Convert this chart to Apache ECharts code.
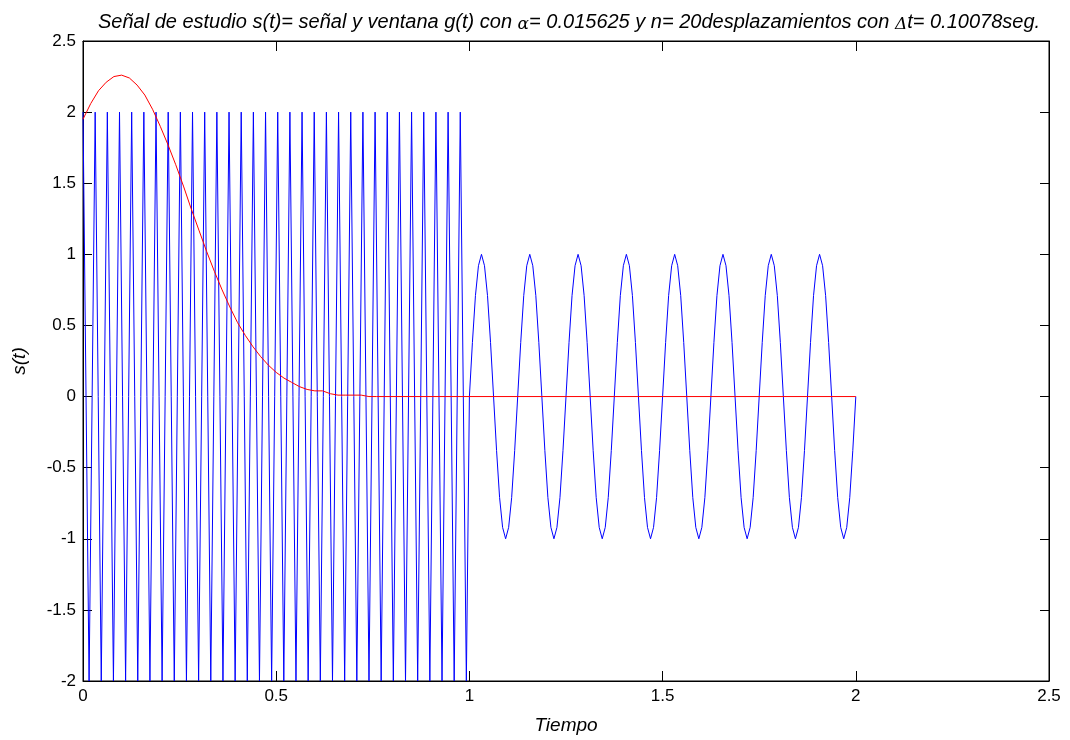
<!DOCTYPE html>
<html>
<head>
<meta charset="utf-8">
<script src="https://cdn.jsdelivr.net/npm/echarts@6/dist/echarts.min.js"></script>
<style>
html,body{margin:0;padding:0;background:#fff;}
#chart{width:1070px;height:740px;}
</style>
</head>
<body>
<div id="chart"></div>
<script>
// ---- data ----
const xTicks = [0, 0.5, 1, 1.5, 2, 2.5];
const yTicks = [-2, -1.5, -1, -0.5, 0, 0.5, 1, 1.5, 2, 2.5];

// blue signal, first part: samples from t=0 to t=1 (step 1/127)
const sigStart1 = 0;
const sigStep1 = 1 / 127;
const signalPart1 = [
  2,0,-2,0, 2,0,-2,0, 2,0,-2,0, 2,0,-2,0,
  2,0,-2,0, 2,0,-2,0, 2,0,-2,0, 2,0,-2,0,
  2,0,-2,0, 2,0,-2,0, 2,0,-2,0, 2,0,-2,0,
  2,0,-2,0, 2,0,-2,0, 2,0,-2,0, 2,0,-2,0,
  2,0,-2,0, 2,0,-2,0, 2,0,-2,0, 2,0,-2,0,
  2,0,-2,0, 2,0,-2,0, 2,0,-2,0, 2,0,-2,0,
  2,0,-2,0, 2,0,-2,0, 2,0,-2,0, 2,0,-2,0,
  2,0,-2,0, 2,0,-2,0, 2,0,-2,0, 2,0,-2,0
];
// blue signal, second part: samples from t=1 to t=2 (step 1/128)
const sigStart2 = 1;
const sigStep2 = 1 / 128;
const signalPart2 = [
  0,0.38,0.71,0.92,1,0.92,0.71,0.38,0,-0.38,-0.71,-0.92,-1,-0.92,-0.71,-0.38,
  0,0.38,0.71,0.92,1,0.92,0.71,0.38,0,-0.38,-0.71,-0.92,-1,-0.92,-0.71,-0.38,
  0,0.38,0.71,0.92,1,0.92,0.71,0.38,0,-0.38,-0.71,-0.92,-1,-0.92,-0.71,-0.38,
  0,0.38,0.71,0.92,1,0.92,0.71,0.38,0,-0.38,-0.71,-0.92,-1,-0.92,-0.71,-0.38,
  0,0.38,0.71,0.92,1,0.92,0.71,0.38,0,-0.38,-0.71,-0.92,-1,-0.92,-0.71,-0.38,
  0,0.38,0.71,0.92,1,0.92,0.71,0.38,0,-0.38,-0.71,-0.92,-1,-0.92,-0.71,-0.38,
  0,0.38,0.71,0.92,1,0.92,0.71,0.38,0,-0.38,-0.71,-0.92,-1,-0.92,-0.71,-0.38,
  0,0.38,0.71,0.92,1,0.92,0.71,0.38,0,-0.38,-0.71,-0.92,-1,-0.92,-0.71,-0.38,
  0
];

// red window g(t)
const windowTimes = [0,0.02,0.04,0.06,0.08,0.10,0.12,0.14,0.16,0.18,0.20,0.22,0.24,0.26,0.28,0.30,0.32,0.34,0.36,0.38,0.40,0.42,0.44,0.46,0.48,0.50,0.52,0.54,0.56,0.58,0.60,0.62,0.64,0.66,0.68,0.70,0.72,0.74,0.76,2];
const windowValues = [1.95,2.06,2.15,2.21,2.25,2.26,2.24,2.19,2.12,2.02,1.90,1.77,1.63,1.48,1.32,1.17,1.02,0.88,0.75,0.63,0.52,0.43,0.35,0.28,0.22,0.17,0.13,0.10,0.07,0.05,0.04,0.04,0.02,0.01,0.01,0.01,0.01,0,0,0];

// ---- build series data ----
const blueData = [];
signalPart1.forEach((v, i) => blueData.push([sigStart1 + i * sigStep1, v]));
signalPart2.forEach((v, i) => blueData.push([sigStart2 + i * sigStep2, v]));
const redData = windowTimes.map((t, i) => [t, windowValues[i]]);

const FONT = "'Liberation Sans', Arial, Helvetica, sans-serif";
const labelFmt = v => String(+v.toFixed(2));

const chart = echarts.init(document.getElementById('chart'), null, {renderer: 'canvas'});
const baseX = {
  type: 'value', min: xTicks[0], max: xTicks[xTicks.length - 1], interval: 0.5,
  splitLine: {show: false},
  axisLine: {show: true, onZero: false, lineStyle: {color: '#000', width: 1}},
  axisTick: {show: true, inside: true, length: 10, lineStyle: {color: '#000'}}
};
const baseY = {
  type: 'value', min: yTicks[0], max: yTicks[yTicks.length - 1], interval: 0.5,
  splitLine: {show: false},
  axisLine: {show: true, onZero: false, lineStyle: {color: '#000', width: 1}},
  axisTick: {show: true, inside: true, length: 9, lineStyle: {color: '#000'}}
};

chart.setOption({
  animation: false,
  backgroundColor: '#fff',
  title: {
    text: 'Señal de estudio s(t)= señal y ventana g(t) con {s|α}= 0.015625 y n= 20desplazamientos con {s|Δ}t= 0.10078seg.',
    left: 564, textAlign: 'center', top: 7,
    textStyle: {
      fontFamily: FONT, fontSize: 20, fontStyle: 'italic', fontWeight: 'normal', color: '#000',
      rich: {s: {fontFamily: "'DejaVu Serif', serif", fontSize: 17, fontStyle: 'italic', color: '#000', padding: [4, 0, 0, 0]}}
    }
  },
  grid: {left: 83, right: 21, top: 41, bottom: 55, show: true, borderColor: '#000', borderWidth: 1, backgroundColor: '#fff'},
  xAxis: [
    Object.assign({}, baseX, {
      position: 'bottom',
      name: 'Tiempo', nameLocation: 'middle', nameGap: 35,
      nameTextStyle: {fontFamily: FONT, fontSize: 19, fontStyle: 'italic', color: '#000'},
      axisLabel: {show: true, margin: 7, fontFamily: FONT, fontSize: 17, color: '#000', formatter: labelFmt, showMinLabel: true, showMaxLabel: true}
    }),
    Object.assign({}, baseX, {position: 'top', axisLabel: {show: false}})
  ],
  yAxis: [
    Object.assign({}, baseY, {
      position: 'left',
      name: 's(t)', nameLocation: 'middle', nameGap: 54, nameRotate: 90,
      nameTextStyle: {fontFamily: FONT, fontSize: 19, fontStyle: 'italic', color: '#000'},
      axisLabel: {show: true, margin: 7, fontFamily: FONT, fontSize: 17, color: '#000', formatter: labelFmt, showMinLabel: true, showMaxLabel: true}
    }),
    Object.assign({}, baseY, {position: 'right', axisLabel: {show: false}})
  ],
  series: [
    {type: 'line', data: blueData, xAxisIndex: 0, yAxisIndex: 0, showSymbol: false, symbol: 'none',
     lineStyle: {color: '#0000ff', width: 1}, itemStyle: {color: '#0000ff'}, clip: true},
    {type: 'line', data: redData, xAxisIndex: 0, yAxisIndex: 0, showSymbol: false, symbol: 'none',
     lineStyle: {color: '#ff0000', width: 1}, itemStyle: {color: '#ff0000'}, clip: true}
  ]
});
</script>
</body>
</html>
